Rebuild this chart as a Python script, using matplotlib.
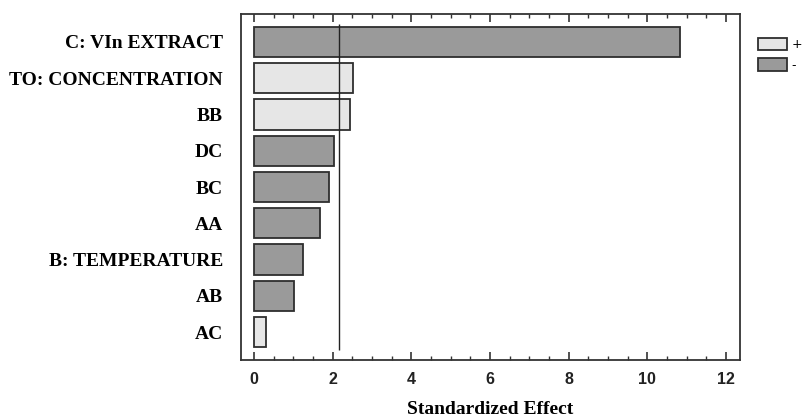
import matplotlib
matplotlib.use('Agg')
import matplotlib.pyplot as plt
from matplotlib.patches import Patch
from matplotlib.ticker import MultipleLocator

# standardized effects, top to bottom
terms = ['C: VIn EXTRACT', 'TO: CONCENTRATION', 'BB', 'DC', 'BC', 'AA',
         'B: TEMPERATURE', 'AB', 'AC']
effects = [10.83, 2.51, 2.45, 2.03, 1.91, 1.68, 1.25, 1.01, 0.30]
signs = ['-', '+', '+', '-', '-', '-', '-', '-', '+']
crit_value = 2.17

light = '#e6e6e6'
dark = '#9a9a9a'
edge = '#2e2e2e'

fig = plt.figure(figsize=(8.04, 4.17), dpi=100)
ax = fig.add_axes([0.2998, 0.1367, 0.6206, 0.8297])

ypos = list(range(len(terms)))
colors = [light if s == '+' else dark for s in signs]
ax.barh(ypos, effects, height=0.83, color=colors, edgecolor=edge, linewidth=1.3)
ax.vlines(crit_value, -0.5, len(terms) - 0.5, color='#222222', linewidth=1.0)

ax.set_xlim(-0.33, 12.36)
ax.set_ylim(len(terms) - 0.23, -0.77)
ax.set_yticks(ypos)
ax.set_yticklabels(terms, fontfamily='Liberation Serif', fontweight='bold', fontsize=14)
ax.tick_params(axis='y', length=0, pad=13)

ax.xaxis.set_major_locator(MultipleLocator(2))
ax.xaxis.set_minor_locator(MultipleLocator(0.5))
ax.tick_params(axis='x', which='both', direction='in', top=True, bottom=True, color='#333333')
ax.tick_params(axis='x', which='major', length=6, width=1.2, pad=9)
ax.tick_params(axis='x', which='minor', length=3, width=1.0)
for lab in ax.get_xticklabels():
    lab.set_fontfamily('Liberation Sans')
    lab.set_fontsize(11.5)
    lab.set_fontweight('bold')
    lab.set_color('#222222')

ax.set_xlabel('Standardized Effect', fontfamily='Liberation Serif', fontweight='bold',
              fontsize=14, labelpad=10)

for sp in ax.spines.values():
    sp.set_color('#333333')
    sp.set_linewidth(1.3)

handles = [Patch(facecolor=light, edgecolor=edge, linewidth=1.3, label='+'),
           Patch(facecolor=dark, edgecolor=edge, linewidth=1.3, label='-')]
fig.legend(handles=handles, loc='upper left', bbox_to_anchor=(0.935, 0.925),
           frameon=False, fontsize=9, handlelength=2.3, handleheight=1.2,
           labelspacing=0.55, borderpad=0, handletextpad=0.4)

fig.savefig('out.png', dpi=100)
